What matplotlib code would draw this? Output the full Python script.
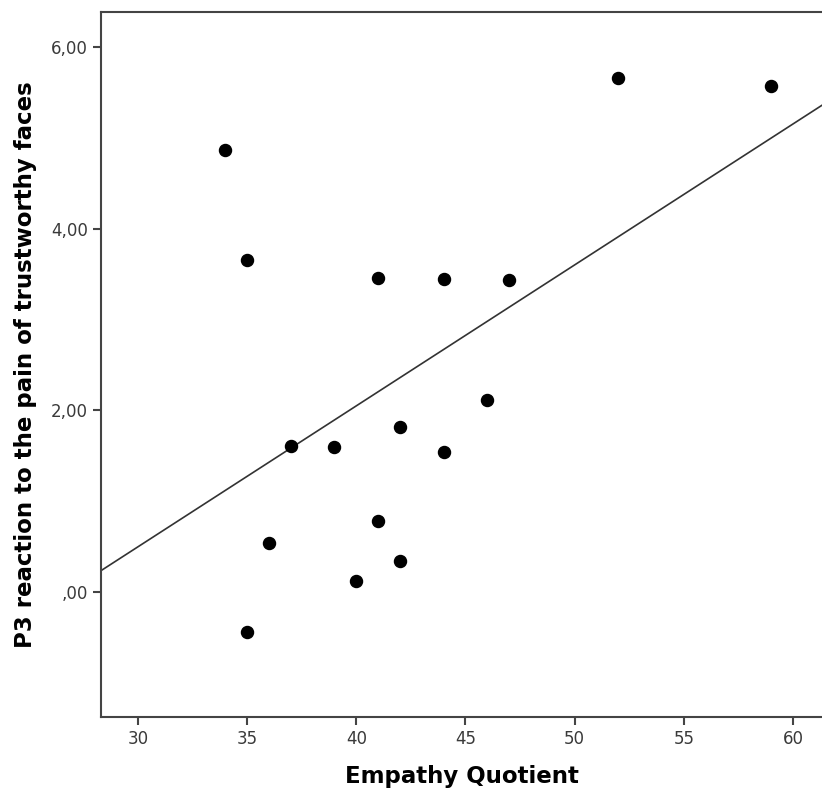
import numpy as np
import matplotlib
matplotlib.use("Agg")
import matplotlib.pyplot as plt
from matplotlib.ticker import FuncFormatter

# Empathy Quotient vs P3 reaction
eq = [34, 35, 35, 36, 37, 39, 40, 41, 41, 42, 42, 44, 44, 46, 47, 52, 59]
p3 = [4.87, 3.65, -0.44, 0.54, 1.61, 1.59, 0.12, 3.46, 0.78, 1.81, 0.34,
      3.45, 1.54, 2.11, 3.43, 5.66, 5.57]
xticks = [30, 35, 40, 45, 50, 55, 60]
yticks = [0, 2, 4, 6]

fig = plt.figure(figsize=(8.22, 7.94), dpi=100)
ax = fig.add_axes([0.1229, 0.097, 0.8771, 0.888])

ax.scatter(eq, p3, s=75, color='black', zorder=3)

# linear fit line
xlim = (28.31, 61.33)
slope, icpt = np.polyfit(eq, p3, 1)
xs = np.array(xlim)
ax.plot(xs, slope * xs + icpt, color='#333333', lw=1.2)

ax.set_xlim(*xlim)
ax.set_ylim(-1.377, 6.385)
ax.set_xticks(xticks)
ax.set_yticks(yticks)

def fmt(v, pos):
    s = f"{v:.2f}".replace('.', ',')
    if s.startswith('0'):
        s = s[1:]
    return s

ax.yaxis.set_major_formatter(FuncFormatter(fmt))

for side in ['left', 'bottom', 'top']:
    ax.spines[side].set_color('#444444')
    ax.spines[side].set_linewidth(1.5)
ax.spines['right'].set_visible(False)
ax.tick_params(direction='out', length=6, width=1.5, color='#444444',
               labelsize=12, labelcolor='#3a3a3a')

ax.set_xlabel('Empathy Quotient', fontsize=16.5, fontweight='bold', labelpad=12)
ax.set_ylabel('P3 reaction to the pain of trustworthy faces', fontsize=16.5,
              fontweight='bold', labelpad=10)

fig.savefig('out.png', dpi=100)
